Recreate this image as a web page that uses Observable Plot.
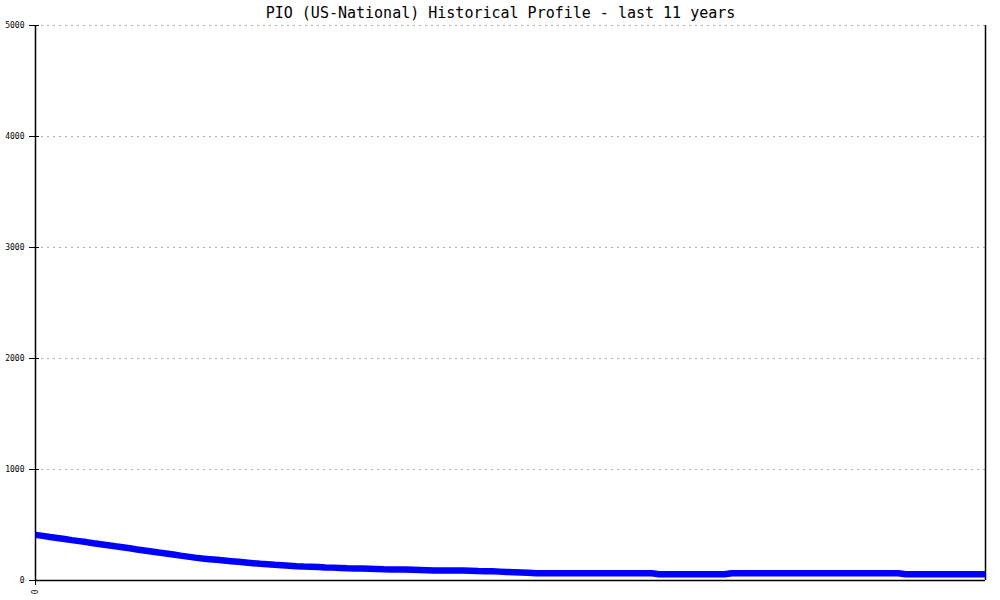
<!DOCTYPE html>
<html>
<head>
<meta charset="utf-8">
<script src="https://cdn.jsdelivr.net/npm/d3@7"></script>
<script src="https://cdn.jsdelivr.net/npm/@observablehq/plot@0.6"></script>
<style>
  html, body { margin: 0; padding: 0; background: #fff; }
  #chart svg { display: block; }
</style>
</head>
<body>
<div id="chart"></div>
<script>
const title = "PIO (US-National) Historical Profile - last 11 years";

// monthly values, last 11 years (132 months)
const values = [
  411, 402, 392, 383, 374, 364, 355, 346, 336, 327, 318, 308,
  299, 290, 280, 271, 262, 252, 243, 234, 224, 215, 206, 198,
  192, 186, 180, 174, 168, 162, 156, 150, 146, 141, 137, 133,
  129, 126, 124, 121, 118, 116, 113, 110, 108, 108, 106, 104,
  101, 99, 99, 98, 97, 95, 93, 91, 90, 90, 90, 89,
  88, 85, 84, 84, 80, 76, 75, 73, 70, 66, 66, 66,
  66, 66, 66, 66, 66, 66, 66, 66, 66, 66, 66, 66,
  66, 66, 57, 57, 57, 57, 57, 57, 57, 57, 57, 57,
  66, 66, 66, 66, 66, 66, 66, 66, 66, 66, 66, 66,
  66, 66, 66, 66, 66, 66, 66, 66, 66, 66, 66, 66,
  57, 57, 57, 57, 57, 57, 57, 57, 57, 57, 57, 57
];
const yTicks = [0, 1000, 2000, 3000, 4000, 5000];
const gridTicks = [1000, 2000, 3000, 4000, 5000];
const xTicks = [0];

const data = values.map((v, i) => ({ i, v }));
const lastIndex = values.length - 1;

const chart = Plot.plot({
  width: 1000,
  height: 600,
  marginTop: 25,
  marginLeft: 35,
  marginRight: 15,
  marginBottom: 20,
  style: { fontFamily: "'DejaVu Sans Mono', monospace", background: "#fff", color: "#000" },
  x: { domain: [0, lastIndex] },
  y: { domain: [0, 5000] },
  marks: [
    Plot.gridY(gridTicks, { stroke: "#b0b0b0", strokeOpacity: 1, strokeDasharray: "2,4" }),
    Plot.axisY(yTicks, { tickSize: 10, dx: 4, tickPadding: 5, fontSize: 8, label: null, tickFormat: d => String(d) }),
    Plot.axisX(xTicks, { tickSize: 5, tickRotate: -90, fontSize: 8, label: null, tickPadding: 4, tickFormat: d => String(d) }),
    Plot.ruleX([0], { stroke: "#000", strokeWidth: 1.5 }),
    Plot.ruleX([lastIndex], { stroke: "#000", strokeWidth: 1.5 }),
    Plot.line(data, { x: "i", y: "v", stroke: "#0000ff", strokeWidth: 6.5, strokeLinecap: "butt", strokeLinejoin: "miter" }),
    Plot.ruleY([0], { stroke: "#000", strokeWidth: 1.5 }),
    Plot.text([title], { frameAnchor: "top", dx: -10, dy: -18, fontSize: 15, fill: "#000", text: d => d })
  ]
});
document.getElementById("chart").appendChild(chart);
</script>
</body>
</html>
